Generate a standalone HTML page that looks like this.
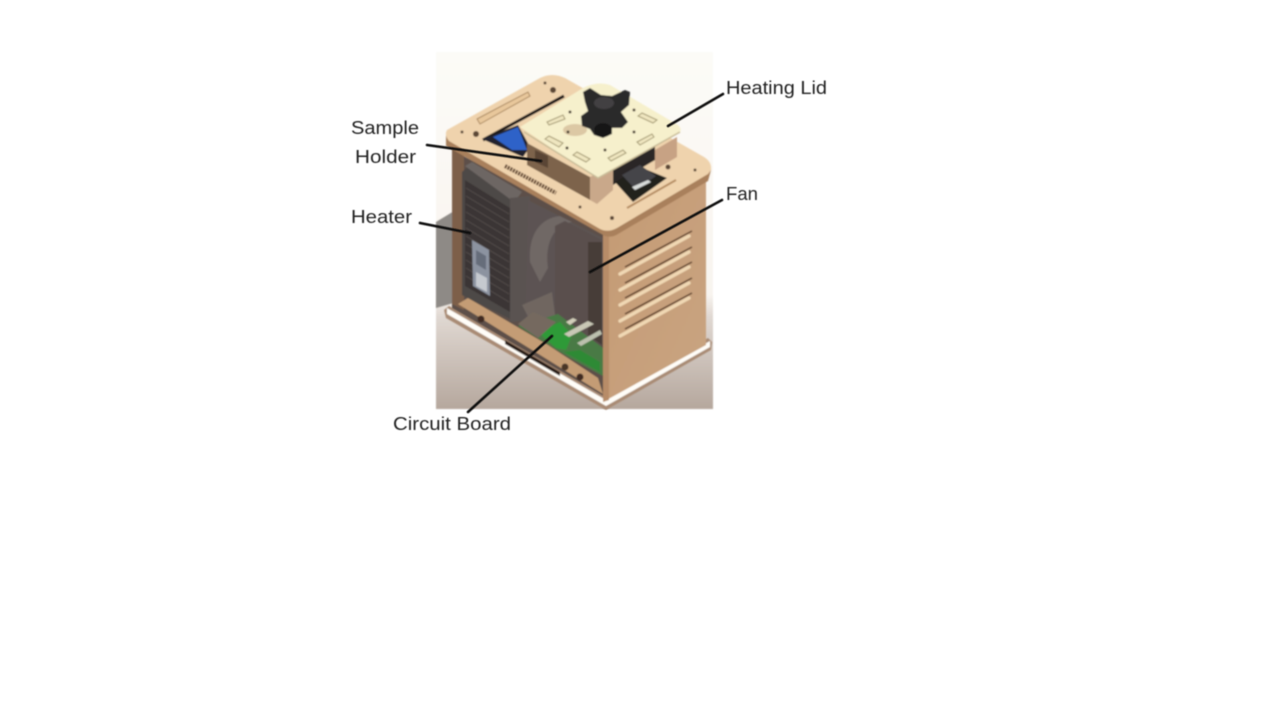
<!DOCTYPE html>
<html><head><meta charset="utf-8"><style>
html,body{margin:0;padding:0;background:#fff}
svg{display:block}
text{font-family:"Liberation Sans",sans-serif;font-size:18px;fill:#222}
</style></head><body>
<svg width="1280" height="720" viewBox="0 0 1280 720" xmlns="http://www.w3.org/2000/svg">
<defs>
<linearGradient id="bg" x1="0" y1="0" x2="0" y2="1">
<stop offset="0" stop-color="#fcfbf7"/><stop offset=".68" stop-color="#f8f4ef"/><stop offset=".74" stop-color="#e0d8d2"/><stop offset="1" stop-color="#b5a79d"/>
</linearGradient>
<linearGradient id="rf" x1="0" y1="0" x2="1" y2="1"><stop offset="0" stop-color="#c49a73"/><stop offset="1" stop-color="#c9a481"/></linearGradient>
<filter id="b"><feGaussianBlur stdDeviation="0.7"/></filter>
<filter id="b2"><feGaussianBlur stdDeviation="0.4"/></filter>
</defs>
<rect x="436" y="52" width="277" height="357" fill="url(#bg)" filter="url(#b)"/>
<g filter="url(#b)">
<!-- shadow block behind heater -->
<polygon points="436,222 464,205 464,300 436,308" fill="#8e8a86"/>
<!-- base -->
<polygon points="444,310 449,306 606,396 708,338 712,342 711,350 606,410 446,318" fill="#a98b74"/>
<polygon points="447,308 606,400 710,341 710,347 606,406 447,314" fill="#fffdf8"/>
<!-- interior -->
<polygon points="452,150 607,232 607,398 452,308" fill="#5d5048"/>
<polygon points="452,148 464,152 464,310 452,304" fill="#7d5f49"/>
<!-- floor -->
<polygon points="458,304 468,298 548,345 598,378 603,394" fill="#c49c74"/>
<polygon points="505,340 560,372 560,376 505,344" fill="#2a1e18"/>
<!-- right face -->
<polygon points="603,232 706,175 706,345 603,402" fill="url(#rf)"/>
<polygon points="603,232 609,230 609,400 603,402" fill="#b78c68"/>
<!-- heater -->
<polygon points="462,172 470,165 516,195 516,322 462,295" fill="#4e4947"/>
<polygon points="465,180 510,208 510,312 465,286" fill="#3b3636"/>
<g stroke="#58524f" stroke-width="1" opacity=".8">
<path d="M466,188 509,214M466,196 509,222M466,204 509,230M466,212 509,238M466,220 509,246M466,228 509,254M466,236 509,262M466,244 509,270M466,252 509,278M466,260 509,286M466,268 509,294M466,276 509,302"/>
</g>
<polygon points="465,166 472,162 522,192 514,202" fill="#6d6664"/>
<polygon points="510,198 530,196 532,320 510,322" fill="#5a5351"/>
<polygon points="472,240 489,250 490,296 473,286" fill="#8c93a0"/>
<polygon points="476,250 486,256 486,270 476,264" fill="#666d7a"/>
<polygon points="476,272 487,278 487,292 476,286" fill="#c5c9cf"/>
<!-- fan housing -->
<polygon points="528,200 603,238 603,340 525,330" fill="#5c5352"/>
<path d="M530,262 C528,235 540,218 560,216 L572,222 C552,226 545,245 548,268 L540,282 Z" fill="#6f6765"/>
<polygon points="555,226 565,221 602,240 602,350 555,322" fill="#5a504d"/>
<polygon points="588,242 602,242 602,345 588,335" fill="#463c39"/>
<polygon points="522,305 552,292 556,322 535,330" fill="#6f6660"/>
<!-- circuit board -->
<polygon points="518,326 558,314 603,348 603,376 570,358" fill="#4a7a44"/>
<polygon points="538,332 560,322 572,335 566,350 556,348" fill="#2f9a38"/>
<polygon points="564,352 580,350 600,362 600,372" fill="#2f8a35"/>
<polygon points="518,324 533,312 556,322 538,338" fill="#75695f"/>
<polygon points="564,334 588,321 594,324 569,337" fill="#c9c8b6"/>
<polygon points="577,343 600,330 602,334 581,346" fill="#bcc0ae"/>
<polygon points="566,322 573,318 577,320 570,325" fill="#d2cfba"/>
<!-- floor hardware -->
<circle cx="481" cy="319" r="3.5" fill="#3f2c22"/>
<circle cx="565" cy="367" r="3.5" fill="#4a3528"/>
<circle cx="580" cy="377" r="3.5" fill="#3f2c22"/>
<!-- louvers -->
<g stroke="#f0d8b4" stroke-width="3.4" stroke-linecap="round">
<line x1="620" y1="274" x2="689" y2="236"/>
<line x1="620" y1="290" x2="689" y2="252"/>
<line x1="620" y1="305" x2="689" y2="267"/>
<line x1="620" y1="321" x2="689" y2="283"/>
<line x1="620" y1="336" x2="689" y2="298"/>
</g>
<g stroke="#5b3f2b" stroke-width="1.5">
<line x1="625" y1="267" x2="692" y2="231"/>
<line x1="625" y1="283" x2="692" y2="247"/>
<line x1="625" y1="298" x2="692" y2="262"/>
<line x1="625" y1="314" x2="692" y2="278"/>
<line x1="625" y1="329" x2="692" y2="293"/>
</g>
<!-- top plate -->
<path d="M446,134 L446,146 L605,236 Q612,238 618,234 L708,181 L711,170 Z" fill="#a9805b"/>
<path d="M447,130 L540,78 Q552,72 565,78 L704,157 Q712,162 711,170 L708,174 L617,228 Q608,233 600,229 L449,141 Q444,135 447,130 Z" fill="#efd3ad"/>
<!-- plate slots -->
<polygon points="477,119 528,92 530,96 480,124" fill="#e8c79b" stroke="#aa8860" stroke-width="1"/>
<line x1="505" y1="166" x2="556" y2="193" stroke="#5d4029" stroke-width="4" stroke-dasharray="2 1"/>
<line x1="627" y1="208" x2="676" y2="180" stroke="#b58c62" stroke-width="2"/>
<line x1="483" y1="140" x2="564" y2="96" stroke="#1a1614" stroke-width="3"/>
<polygon points="482,139 518,125 530,147 523,157" fill="#20242e"/>
<polygon points="493,137 518,127 527,150 512,150" fill="#2e62c8"/>
<circle cx="476" cy="134" r="3" fill="#5b4634"/>
<circle cx="553" cy="90" r="3" fill="#5b4634"/>
<circle cx="545" cy="83" r="1.5" fill="#5b4634"/>
<circle cx="462" cy="132" r="1.5" fill="#5b4634"/>
<circle cx="695" cy="170" r="1.5" fill="#5b4634"/>
<circle cx="668" cy="167" r="2.5" fill="#5b4634"/>
<circle cx="612" cy="218" r="2" fill="#5b4634"/>
<circle cx="580" cy="207" r="1.5" fill="#5b4634"/>
<!-- lid supports -->
<polygon points="527,143 590,177 590,200 527,165" fill="#7d634c"/>
<polygon points="535,150 548,156 548,168 535,162" fill="#5a4434"/>
<polygon points="590,177 613,165 613,190 597,204 590,200" fill="#c9a88a"/>
<polygon points="613,165 655,142 655,160 613,185" fill="#2c2725"/>
<polygon points="655,150 677,137 677,157 655,170" fill="#c7a284"/>
<!-- latch -->
<polygon points="615,182 640,167 667,178 633,202" fill="#22201f"/>
<polygon points="622,175 640,165 656,176 636,190" fill="#45444a"/>
<polygon points="632,187 648,180 651,182 635,190" fill="#d8dcda"/>
<!-- lid top -->
<path d="M520,127 L583,88 Q597,81 610,85 L678,125 Q682,129 680,132 L601,177 Q597,178 590,174 Z" fill="#f6f0cc"/>
<polyline points="524,132 598,178 680,132" fill="none" stroke="#c9bc98" stroke-width="1.5"/>
<!-- lid slots -->
<g fill="#efe6c0" stroke="#a29770" stroke-width="1">
<polygon points="547,122 563,115 565,119 549,125"/>
<polygon points="545,139 549,136 563,143 559,147"/>
<polygon points="573,155 577,152 590,159 586,162"/>
<polygon points="608,158 623,150 626,153 611,161"/>
<polygon points="637,142 652,134 654,137 640,145"/>
<polygon points="638,116 642,113 657,120 653,123"/>
</g>
<ellipse cx="575" cy="130" rx="12" ry="6" fill="#dcc8a4"/>
<g fill="#4a3f30"><circle cx="570" cy="112" r="1.5"/><circle cx="568" cy="132" r="1.5"/><circle cx="567" cy="148" r="1.5"/><circle cx="605" cy="150" r="1.5"/><circle cx="615" cy="126" r="1.5"/><circle cx="634" cy="132" r="1.5"/><circle cx="634" cy="110" r="1.5"/></g>
<!-- knob -->
<path d="M583,92 L590,88 L601,95 L612,96 L625,90 L630,92 L629,105 L621,112 L628,122 L622,128 L612,128 L612,134 L603,138 L594,135 L590,129 L582,126 L581,116 L588,111 L585,102 Z" fill="#2c2b2c"/>
<ellipse cx="604" cy="103" rx="10" ry="6" fill="#434142"/>
<ellipse cx="603" cy="130" rx="9" ry="7" fill="#191818"/>
</g>
<!-- leader lines -->
<g stroke="#0d0d0d" stroke-width="2.6" fill="none" stroke-linecap="round" filter="url(#b2)">
<line x1="723" y1="94" x2="668" y2="126"/>
<line x1="427" y1="145" x2="541" y2="161"/>
<line x1="420" y1="223" x2="470" y2="233"/>
<line x1="722" y1="200" x2="590" y2="272"/>
<line x1="552" y1="336" x2="468" y2="412"/>
</g>
<!-- labels -->
<g filter="url(#b2)">
<text x="726" y="94" textLength="101" lengthAdjust="spacingAndGlyphs">Heating Lid</text>
<text x="351" y="134" textLength="68" lengthAdjust="spacingAndGlyphs">Sample</text>
<text x="355" y="163" textLength="61" lengthAdjust="spacingAndGlyphs">Holder</text>
<text x="351" y="223" textLength="61" lengthAdjust="spacingAndGlyphs">Heater</text>
<text x="726" y="200" textLength="32" lengthAdjust="spacingAndGlyphs">Fan</text>
<text x="393" y="430" textLength="118" lengthAdjust="spacingAndGlyphs">Circuit Board</text>
</g>
</svg>
</body></html>
